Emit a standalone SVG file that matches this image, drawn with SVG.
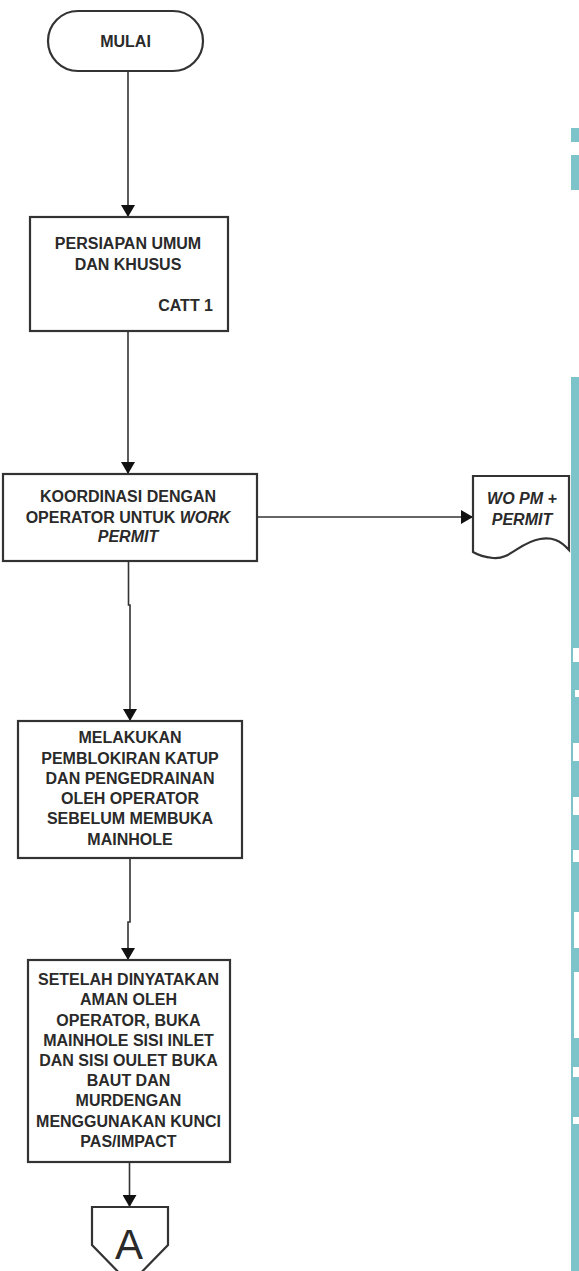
<svg xmlns="http://www.w3.org/2000/svg" width="579" height="1271" viewBox="0 0 579 1271">
<defs>
<style>
.t{font-family:"Liberation Sans",Arial,sans-serif;font-size:16px;font-weight:bold;fill:#2a2a2a;text-anchor:middle}
.box{fill:#fff;stroke:#333;stroke-width:2.2}
.ln{fill:none;stroke:#333;stroke-width:1.6}
.wm{fill:#7cc3ca}
</style>
<marker id="ah" viewBox="0 0 12 14" refX="12" refY="7" markerWidth="12" markerHeight="14" markerUnits="userSpaceOnUse" orient="auto">
<path d="M0,0 L12,7 L0,14 Z" fill="#111"/>
</marker>
</defs>
<rect width="579" height="1271" fill="#fff"/>
<g id="watermark">
<rect class="wm" x="571" y="128" width="8" height="14"/>
<rect class="wm" x="571" y="155" width="8" height="35"/>
<rect class="wm" x="571" y="377" width="8" height="894"/>
<rect x="573" y="648" width="6" height="14" fill="#fff"/>
<rect x="575" y="690" width="4" height="7" fill="#fff"/>
<rect x="573" y="743" width="6" height="18" fill="#fff"/>
<rect x="573" y="797" width="6" height="18" fill="#fff"/>
<rect x="573" y="850" width="6" height="12" fill="#fff"/>
<rect x="574" y="912" width="5" height="36" fill="#fff"/>
<rect x="574" y="972" width="5" height="66" fill="#fff"/>
<rect x="573" y="1067" width="6" height="10" fill="#fff"/>
<rect x="573" y="1117" width="6" height="7" fill="#fff"/>
</g>
<g id="connectors">
<path class="ln" d="M128,71 V217" marker-end="url(#ah)"/>
<path class="ln" d="M128,331 V474" marker-end="url(#ah)"/>
<path class="ln" d="M257,517 H473" marker-end="url(#ah)"/>
<path class="ln" d="M128.5,561 V605 H130 V721" marker-end="url(#ah)"/>
<path class="ln" d="M130,858 V922 H128 V960" marker-end="url(#ah)"/>
<path class="ln" d="M129.5,1162 V1207" marker-end="url(#ah)"/>
</g>
<g id="mulai">
<rect class="box" x="48" y="11" width="155" height="60" rx="30" stroke-width="1.6"/>
<text class="t" x="125.5" y="47">MULAI</text>
</g>
<g id="persiapan">
<rect class="box" x="30" y="217" width="198" height="114"/>
<text class="t" x="128" y="249">PERSIAPAN UMUM</text>
<text class="t" x="128" y="270">DAN KHUSUS</text>
<text class="t" x="213" y="311" style="text-anchor:end">CATT 1</text>
</g>
<g id="koordinasi">
<rect class="box" x="3" y="474" width="254" height="87"/>
<text class="t" x="128" y="502">KOORDINASI DENGAN</text>
<text class="t" x="128" y="523">OPERATOR UNTUK <tspan font-style="italic">WORK</tspan></text>
<text class="t" x="128" y="542" font-style="italic">PERMIT</text>
</g>
<g id="wo-permit">
<path class="box" stroke-width="1.6" d="M473,476 H569 V550 C560,540 552,537 540,539 C520,542 510,560 493,558 C484,557 478,555 473,552 Z"/>
<text class="t" x="522" y="504" font-style="italic">WO PM +</text>
<text class="t" x="522" y="525" font-style="italic">PERMIT</text>
</g>
<g id="melakukan">
<rect class="box" x="18" y="721" width="224" height="137"/>
<text class="t" x="130" y="743">MELAKUKAN</text>
<text class="t" x="130" y="764">PEMBLOKIRAN KATUP</text>
<text class="t" x="130" y="784">DAN PENGEDRAINAN</text>
<text class="t" x="130" y="804">OLEH OPERATOR</text>
<text class="t" x="130" y="824">SEBELUM MEMBUKA</text>
<text class="t" x="130" y="845">MAINHOLE</text>
</g>
<g id="setelah">
<rect class="box" x="28" y="960" width="202" height="202"/>
<text class="t" x="128.5" y="985">SETELAH DINYATAKAN</text>
<text class="t" x="128.5" y="1005">AMAN OLEH</text>
<text class="t" x="128.5" y="1026">OPERATOR, BUKA</text>
<text class="t" x="128.5" y="1046">MAINHOLE SISI INLET</text>
<text class="t" x="128.5" y="1066">DAN SISI OULET BUKA</text>
<text class="t" x="128.5" y="1086">BAUT DAN</text>
<text class="t" x="128.5" y="1106">MURDENGAN</text>
<text class="t" x="128.5" y="1127">MENGGUNAKAN KUNCI</text>
<text class="t" x="128.5" y="1147">PAS/IMPACT</text>
</g>
<g id="offpage-a">
<path class="box" stroke-width="1.4" d="M92,1207 H168 V1245 L130,1284 L92,1245 Z"/>
<text class="t" x="129" y="1259" style="font-size:42px;font-weight:normal">A</text>
</g>
</svg>
